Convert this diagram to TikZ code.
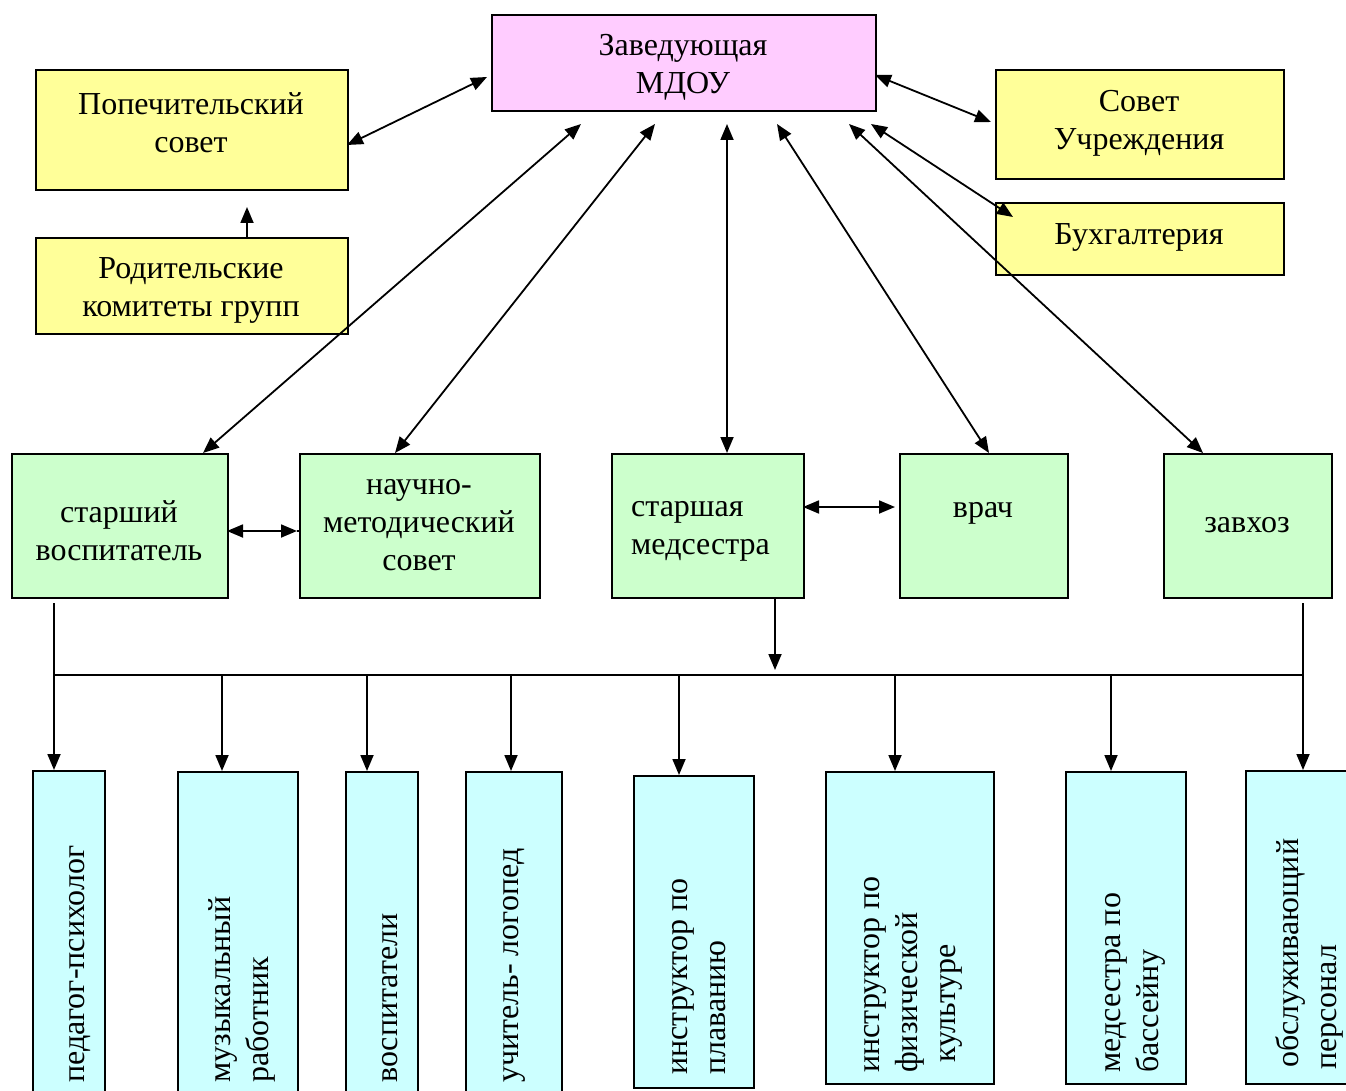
\documentclass[tikz,border=0pt]{standalone}
\usepackage{fontspec}
\setmainfont{Liberation Serif}
\usetikzlibrary{arrows.meta}
\definecolor{pinkc}{HTML}{FFCCFF}
\definecolor{yelc}{HTML}{FFFF99}
\definecolor{grnc}{HTML}{CCFFCC}
\definecolor{cyanc}{HTML}{CCFFFF}
\begin{document}
\begin{tikzpicture}[x=1pt,y=-1pt,
 box/.style={draw=black, line width=1.6pt, rectangle, inner sep=0pt, anchor=north west},
 lbl/.style={font=\fontsize{32}{38}\selectfont, align=center, inner sep=0pt},
 vl/.style={font=\fontsize{32}{38}\selectfont, rotate=90, anchor=base west, inner sep=0pt},
 con/.style={line width=1.8pt},
 arr/.style={con, -{Triangle[length=16pt,width=13pt]}},
 darr/.style={con, {Triangle[length=16pt,width=13pt]}-{Triangle[length=16pt,width=13pt]}},
]
\useasboundingbox (0,0) rectangle (1346,1091);
\clip (0,0) rectangle (1346,1091);
\fill[white] (0,0) rectangle (1346,1091);

% top boxes
\node[box, fill=pinkc, minimum width=384pt, minimum height=96pt] (zav) at (491,14) {};
\node[lbl] (zavt) at (683,67) {Заведующая\\МДОУ};
\node[box, fill=yelc, minimum width=312pt, minimum height=120pt] (pop) at (35,69) {};
\node[lbl] (popt) at (191,123) {Попечительский\\совет};
\node[box, fill=yelc, minimum width=312pt, minimum height=96pt] (rod) at (35,237) {};
\node[lbl] (rodt) at (191,290) {Родительские\\комитеты групп};
\node[box, fill=yelc, minimum width=288pt, minimum height=109pt] (sov) at (995,69) {};
\node[lbl] (sovt) at (1139,123) {Совет\\Учреждения};
\node[box, fill=yelc, minimum width=288pt, minimum height=72pt] (buh) at (995,202) {};
\node[lbl] (buht) at (1139,237) {Бухгалтерия};

% middle boxes
\node[box, fill=grnc, minimum width=216pt, minimum height=144pt] (sv) at (11,453) {};
\node[lbl] (svt) at (119,531) {старший\\воспитатель};
\node[box, fill=grnc, minimum width=240pt, minimum height=144pt] (nms) at (299,453) {};
\node[lbl] (nmst) at (419,525) {научно-\\методический\\совет};
\node[box, fill=grnc, minimum width=192pt, minimum height=144pt] (ms) at (611,453) {};
\node[lbl, align=left, anchor=west] (mst) at (631,531) {старшая\\медсестра};
\node[box, fill=grnc, minimum width=168pt, minimum height=144pt] (vr) at (899,453) {};
\node[lbl] (vrt) at (983,513) {врач};
\node[box, fill=grnc, minimum width=168pt, minimum height=144pt] (zh) at (1163,453) {};
\node[lbl] (zht) at (1247,525) {завхоз};

% bottom boxes
\node[box, fill=cyanc, minimum width=72pt, minimum height=330pt] (pp) at (32,770) {};
\node[box, fill=cyanc, minimum width=120pt, minimum height=330pt] (muz) at (177,771) {};
\node[box, fill=cyanc, minimum width=72pt, minimum height=330pt] (vos) at (345,771) {};
\node[box, fill=cyanc, minimum width=96pt, minimum height=330pt] (uch) at (465,771) {};
\node[box, fill=cyanc, minimum width=120pt, minimum height=312pt] (plav) at (633,775) {};
\node[box, fill=cyanc, minimum width=168pt, minimum height=312pt] (fiz) at (825,771) {};
\node[box, fill=cyanc, minimum width=120pt, minimum height=312pt] (med) at (1065,771) {};
\node[box, fill=cyanc, minimum width=120pt, minimum height=313pt] (obs) at (1245,770) {};

\node[vl] (ppt) at (84,1083) {педагог-психолог};
\node[vl] (muzt1) at (230,1083) {музыкальный};
\node[vl] (muzt2) at (268,1083) {работник};
\node[vl] (vost) at (397,1083) {воспитатели};
\node[vl] (ucht) at (518,1083) {учитель- логопед};
\node[vl] (plavt1) at (687,1075) {инструктор по};
\node[vl] (plavt2) at (725,1075) {плаванию};
\node[vl] (fizt1) at (879,1073) {инструктор по};
\node[vl] (fizt2) at (917,1073) {физической};
\node[vl] (fizt3) at (955,1063) {культуре};
\node[vl] (medt1) at (1120,1073) {медсестра по};
\node[vl] (medt2) at (1158,1073) {бассейну};
\node[vl] (obst1) at (1298,1068) {обслуживающий};
\node[vl] (obst2) at (1336,1070) {персонал};

% connector end points
\coordinate (cPop) at (347,145);
\coordinate (cZavL) at (487,77);
\coordinate (cZavR) at (875,75);
\coordinate (cSov) at (991,122);
\coordinate (cRod) at (247,237);
\coordinate (cPopB) at (247,207);
\coordinate (cZ1) at (581,124);
\coordinate (cZ2) at (655,124);
\coordinate (cZ3) at (727,124);
\coordinate (cZ4) at (777,124);
\coordinate (cZ5) at (849,124);
\coordinate (cZ6) at (871,124);
\coordinate (cSv) at (203,453);
\coordinate (cNms) at (395,453);
\coordinate (cMs) at (727,453);
\coordinate (cVr) at (989,453);
\coordinate (cZh) at (1203,453);
\coordinate (cBuh) at (1013,217);
\coordinate (cSvR) at (227,531);
\coordinate (cNmsL) at (297,531);
\coordinate (cMsR) at (803,507);
\coordinate (cVrL) at (895,507);
\coordinate (cMsB) at (775,597);
\coordinate (cMsD) at (775,670);
\coordinate (cSvB) at (54,603);
\coordinate (cZhB) at (1303,603);
\coordinate (busL) at (54,675);
\coordinate (busR) at (1303,675);

\draw[darr] (cPop) -- (cZavL);
\draw[darr] (cZavR) -- (cSov);
\draw[arr] (cRod) -- (cPopB);
\draw[darr] (cSv) -- (cZ1);
\draw[darr] (cNms) -- (cZ2);
\draw[darr] (cMs) -- (cZ3);
\draw[darr] (cVr) -- (cZ4);
\draw[darr] (cZh) -- (cZ5);
\draw[darr] (cBuh) -- (cZ6);
\draw[darr] (cSvR) -- (cNmsL);
\draw[con] (cNmsL) -- (299,531);
\draw[darr] (cMsR) -- (cVrL);
\draw[arr] (cMsB) -- (cMsD);
\draw[con] (cSvB) -- (busL) -- (busR) -- (cZhB);

\foreach \n/\x in {pp/54, muz/222, vos/367, uch/511, plav/679, fiz/895, med/1111, obs/1303}
  \draw[arr] (\x,675) -- (\n.north -| \x,0);
\end{tikzpicture}
\end{document}
